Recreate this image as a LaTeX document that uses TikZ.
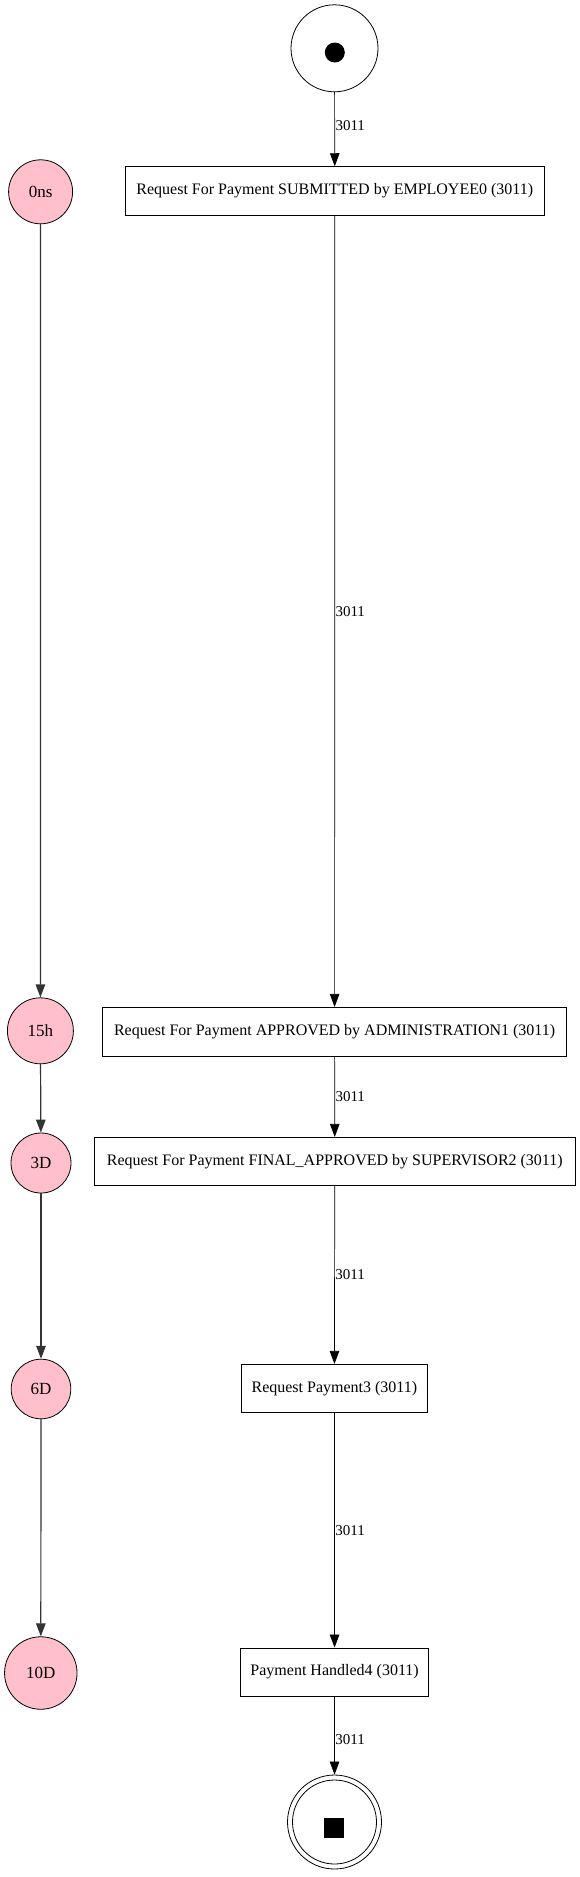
\documentclass[tikz,border=0pt]{standalone}
\usepackage{fontspec}
\setmainfont{Liberation Serif}
\usetikzlibrary{shapes.geometric,arrows.meta}
\begin{document}
\begin{tikzpicture}[x=1pt,y=-1pt,
  box/.style={draw, rectangle, line width=0.8pt, inner sep=0pt, font=\fontsize{16}{18}\selectfont},
  tnode/.style={draw, circle, line width=0.8pt, fill=pinkfill, inner sep=0pt, font=\fontsize{17}{19}\selectfont},
  term/.style={draw, circle, line width=0.8pt, inner sep=0pt},
  conn/.style={draw, line width=0.7pt, -{Triangle[length=13pt,width=9.5pt]}},
  lconn/.style={draw=black!80, line width=1.2pt, -{Triangle[length=13pt,width=9.5pt]}},
  elab/.style={anchor=west, inner xsep=0.5pt, inner ysep=0pt, font=\fontsize{15}{17}\selectfont}
]
\definecolor{pinkfill}{HTML}{FFC0CB}
\useasboundingbox (0,0) rectangle (579,1877);

% start
\node[term, minimum size=87pt] (start) at (334.5,48.3) {};
\node[circle, fill=black, minimum size=20pt, inner sep=0pt] (startdot) at (334.8,52.5) {};

% end
\node[term, minimum size=94pt] (end) at (334.5,1822) {};
\node[term, minimum size=84pt] (endin) at (334.5,1822) {};
\node[rectangle, fill=black, minimum size=20pt, inner sep=0pt] (endsq) at (334.3,1828) {};

% boxes
\node[box, minimum width=419.3pt, minimum height=48.3pt] (b1) at (334.8,190.8) {Request For Payment SUBMITTED by EMPLOYEE0 (3011)};
\node[box, minimum width=464.4pt, minimum height=48.7pt] (b2) at (334.6,1031.7) {Request For Payment APPROVED by ADMINISTRATION1 (3011)};
\node[box, minimum width=480.7pt, minimum height=48.4pt] (b3) at (334.8,1161.5) {Request For Payment FINAL\_APPROVED by SUPERVISOR2 (3011)};
\node[box, minimum width=185.2pt, minimum height=48.4pt] (b4) at (334.4,1388.5) {Request Payment3 (3011)};
\node[box, minimum width=188.5pt, minimum height=48pt] (b5) at (334.6,1672) {Payment Handled4 (3011)};

% time nodes
\node[tnode, minimum size=64pt] (t0) at (40.6,191.8) {0ns};
\node[tnode, minimum size=66pt] (t1) at (40.4,1030.8) {15h};
\node[tnode, minimum size=60pt] (t2) at (41,1163) {3D};
\node[tnode, minimum size=59.6pt] (t3) at (41,1389) {6D};
\node[tnode, minimum size=72.5pt] (t4) at (40.8,1673) {10D};

% main flow
\path[conn] (start) -- (b1) node[elab, pos=0.45] {3011};
\path[conn] (b1) -- (b2) node[elab, midway] {3011};
\path[conn] (b2) -- (b3) node[elab, midway] {3011};
\path[conn] (b3) -- (b4) node[elab, midway] {3011};
\path[conn] (b4) -- (b5) node[elab, midway] {3011};
\path[conn] (b5) -- (end) node[elab, pos=0.55] {3011};

% time flow
\path[lconn] (t0) -- (t1);
\path[lconn] (t1) -- (t2);
\path[lconn] (t2) -- (t3);
\path[lconn] (t3) -- (t4);
\end{tikzpicture}
\end{document}
